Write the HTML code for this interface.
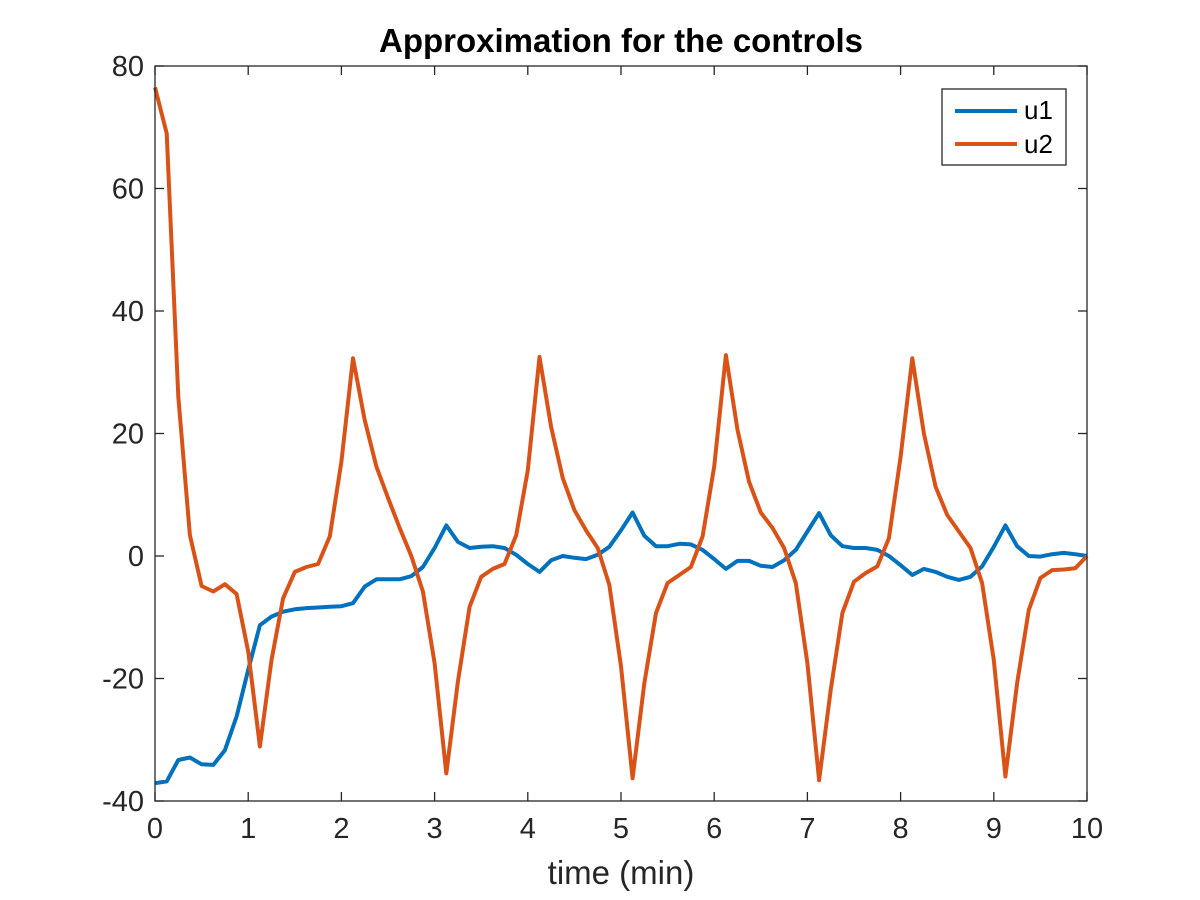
<!DOCTYPE html>
<html><head><meta charset="utf-8"><style>
html,body{margin:0;padding:0;background:#fff;}
svg{display:block;font-family:"Liberation Sans",Arial,sans-serif;}
</style></head><body>
<svg id="chart" width="1200" height="900" viewBox="0 0 1200 900">
<rect width="1200" height="900" fill="#fff"/>
<text x="621" y="52" text-anchor="middle" font-size="33" font-weight="bold" fill="#000">Approximation for the controls</text>
<g id="grid"></g>
<g id="series"></g>
<rect x="155" y="66" width="932" height="735" fill="none" stroke="#262626" stroke-width="1.3"/>
<text x="621" y="884" text-anchor="middle" font-size="33" fill="#262626">time (min)</text>
<g>
<rect x="942" y="89" width="124" height="76" fill="#fff" stroke="#262626" stroke-width="1.3"/>
<line x1="955" y1="111" x2="1017" y2="111" stroke="#0072BD" stroke-width="4"/>
<text x="1024" y="119" font-size="26" fill="#000">u1</text>
<line x1="955" y1="144" x2="1017" y2="144" stroke="#D95319" stroke-width="4"/>
<text x="1024" y="153" font-size="26" fill="#000">u2</text>
</g>
</svg>
<script>
const xTicks=[0,1,2,3,4,5,6,7,8,9,10];
const yTicks=[-40,-20,0,20,40,60,80];
const u1=[-37.1,-36.8,-33.3,-32.9,-34,-34.1,-31.7,-26.2,-18.6,-11.3,-9.9,-9.1,-8.7,-8.5,-8.4,-8.3,-8.2,-7.7,-5,-3.8,-3.8,-3.8,-3.3,-1.8,1.3,5,2.3,1.3,1.5,1.6,1.3,0.2,-1.3,-2.6,-0.7,0,-0.3,-0.5,0.2,1.5,4.2,7.1,3.3,1.6,1.6,2,1.9,1,-0.5,-2.1,-0.8,-0.8,-1.6,-1.8,-0.7,1,4,7,3.4,1.6,1.3,1.3,1,0,-1.5,-3.1,-2.1,-2.6,-3.4,-3.9,-3.4,-1.7,1.5,5,1.6,0,-0.1,0.3,0.5,0.3,0];
const u2=[76.5,69,26,3.4,-4.9,-5.8,-4.6,-6.2,-15.6,-31.1,-17,-6.9,-2.6,-1.8,-1.3,3.2,15.4,32.3,22.2,14.6,9.5,4.6,0,-5.8,-17.5,-35.5,-20.5,-8.3,-3.4,-2.1,-1.3,3.4,14,32.5,21.1,12.7,7.5,4.2,1.3,-4.7,-18,-36.3,-20.8,-9.3,-4.4,-3.1,-1.8,3.2,14.6,32.8,20.6,12.1,7.1,4.6,1.3,-4.4,-17.5,-36.6,-21.9,-9.3,-4.2,-2.8,-1.7,2.9,16.2,32.3,20,11.3,6.7,4,1.3,-4.4,-17,-36,-20.8,-8.8,-3.6,-2.3,-2.2,-2,0];
const tStep=0.125;
const X=t=>155+(t-0)/(10-0)*932;
const Y=v=>801-(v-(-40))/(80-(-40))*735;
const NS="http://www.w3.org/2000/svg";
const grid=document.getElementById('grid');
const series=document.getElementById('series');
function mk(tag,attrs,parent){const e=document.createElementNS(NS,tag);for(const k in attrs)e.setAttribute(k,attrs[k]);parent.appendChild(e);return e;}
xTicks.forEach(v=>{
  const x=X(v);
  const a=mk('line',{x1:x,x2:x,y1:801,y2:792,stroke:'#262626','stroke-width':1.3},grid);
  
  
  const b=mk('line',{x1:x,x2:x,y1:66,y2:75,stroke:'#262626','stroke-width':1.3},grid);
  
  
  const t=mk('text',{x:x,y:838,'text-anchor':'middle','font-size':29,fill:'#262626'},grid);
  t.textContent=v;
  
  
});
yTicks.forEach(v=>{
  const y=Y(v);
  const a=mk('line',{x1:155,x2:164,y1:y,y2:y,stroke:'#262626','stroke-width':1.3},grid);
  
  
  const b=mk('line',{x1:1078,x2:1087,y1:y,y2:y,stroke:'#262626','stroke-width':1.3},grid);
  
  
  const t=mk('text',{x:144,y:y+10,'text-anchor':'end','font-size':29,fill:'#262626'},grid);
  t.textContent=v;
  
  
});
function line(arr,color,name){
  const pts=arr.map((v,i)=>X(i*tStep).toFixed(1)+','+Y(v).toFixed(1)).join(' ');
  const p=mk('polyline',{points:pts,fill:'none',stroke:color,'stroke-width':4,'stroke-linejoin':'round'},series);
  
  
}
line(u1,'#0072BD','u1-line');
line(u2,'#D95319','u2-line');
</script>
</body></html>
